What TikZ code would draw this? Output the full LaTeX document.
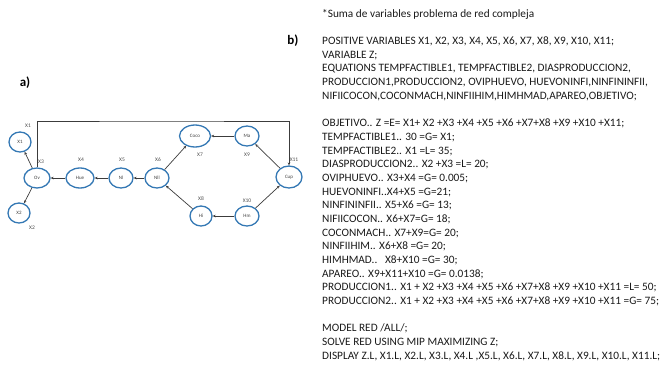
\documentclass[tikz,border=0pt]{standalone}
\usepackage{fontspec}
\setmainfont{Carlito}
\usetikzlibrary{arrows.meta,shapes.geometric}
\definecolor{azulnodo}{RGB}{52,120,180}
\definecolor{grisarista}{RGB}{60,60,60}
\begin{document}
\begin{tikzpicture}[x=1pt,y=-1pt,>={Stealth[length=3pt,width=2.6pt]},
  estado/.style={ellipse,draw=azulnodo,line width=1.3pt,fill=white,inner sep=0pt,
    minimum width=24pt,minimum height=20pt,font=\fontsize{5}{6}\selectfont,text=black!75},
  etiq/.style={font=\fontsize{5.5}{6}\selectfont,text=black!70,inner sep=0pt},
  arista/.style={draw=grisarista,line width=0.7pt}]
  \useasboundingbox (0,0) rectangle (663,365);
  % titulos de las partes
  \node[font=\fontsize{13}{14}\bfseries] (pa) at (25,83) {a)};
  \node[font=\fontsize{13}{14}\bfseries] (pb) at (293,41) {b)};
  % estados del ciclo
  \node[estado,minimum width=22pt] (x1) at (20,142) {X1};
  \node[estado,minimum width=26pt] (ov) at (37,178) {Ov};
  \node[estado,minimum width=22pt] (x2) at (19,213) {X2};
  \node[estado,minimum width=28pt] (hue) at (80,178) {Hue};
  \node[estado] (nl) at (121,178) {Nl};
  \node[estado] (nll) at (157,178) {Nll};
  \node[estado,minimum width=31pt,minimum height=22pt] (coco) at (195,136) {Coco};
  \node[estado] (ma) at (247,136) {Ma};
  \node[estado,minimum width=26pt,minimum height=22pt] (cup) at (289,177) {Cup};
  \node[estado,minimum width=22pt] (hi) at (201,216) {Hi};
  \node[estado] (hm) at (247,216) {Hm};
  % variables de cada arista
  \foreach \t/\x/\y in {X1/28/126,X3/41/162,X2/32/228,X4/81/160,X5/122/160,X6/158/160,
    X7/200/155,X9/247/155,X11/294/160,X8/201/199,X10/247/201}
    \node[etiq] (l\t) at (\x,\y) {\t};
  % aristas
  \draw[arista,->] (ov) -- (x1);
  \draw[arista,->] (ov) -- (x2);
  \foreach \a/\b in {hue/ov,nl/hue,nll/nl,ma/coco,cup/ma,hm/hi,hi/nll}
    \draw[arista,->] (\a) -- (\b);
  \draw[arista,->] (nll) -- (coco);
  \draw[arista,->] (hm) -- (cup);
  % retorno superior
  \coordinate (arriba) at (160,121);
  \draw[arista,->] (ov.north) |- (arriba) -| (cup.north);
  % modelo GAMS
  \node[anchor=north west,inner sep=0pt,align=left,text=black!90,
    font=\fontsize{11.3}{13.68}\selectfont] (codigo) at (322,9) {%
    *Suma de variables problema de red compleja\\
    ~\\
    POSITIVE VARIABLES X1, X2, X3, X4, X5, X6, X7, X8, X9, X10, X11;\\
    VARIABLE Z;\\
    EQUATIONS TEMPFACTIBLE1, TEMPFACTIBLE2, DIASPRODUCCION2,\\
    PRODUCCION1,PRODUCCION2, OVIPHUEVO, HUEVONINFI,NINFININFII,\\
    NIFIICOCON,COCONMACH,NINFIIHIM,HIMHMAD,APAREO,OBJETIVO;\\
    ~\\
    OBJETIVO.. Z =E= X1+ X2 +X3 +X4 +X5 +X6 +X7+X8 +X9 +X10 +X11;\\
    TEMPFACTIBLE1.. 30 =G= X1;\\
    TEMPFACTIBLE2.. X1 =L= 35;\\
    DIASPRODUCCION2.. X2 +X3 =L= 20;\\
    OVIPHUEVO.. X3+X4 =G= 0.005;\\
    HUEVONINFI..X4+X5 =G=21;\\
    NINFININFII.. X5+X6 =G= 13;\\
    NIFIICOCON.. X6+X7=G= 18;\\
    COCONMACH.. X7+X9=G= 20;\\
    NINFIIHIM.. X6+X8 =G= 20;\\
    HIMHMAD..~~~X8+X10 =G= 30;\\
    APAREO.. X9+X11+X10 =G= 0.0138;\\
    PRODUCCION1.. X1 + X2 +X3 +X4 +X5 +X6 +X7+X8 +X9 +X10 +X11 =L= 50;\\
    PRODUCCION2.. X1 + X2 +X3 +X4 +X5 +X6 +X7+X8 +X9 +X10 +X11 =G= 75;\\
    ~\\
    MODEL RED /ALL/;\\
    SOLVE RED USING MIP MAXIMIZING Z;\\
    DISPLAY Z.L, X1.L, X2.L, X3.L, X4.L ,X5.L, X6.L, X7.L, X8.L, X9.L, X10.L, X11.L;};
\end{tikzpicture}
\end{document}
